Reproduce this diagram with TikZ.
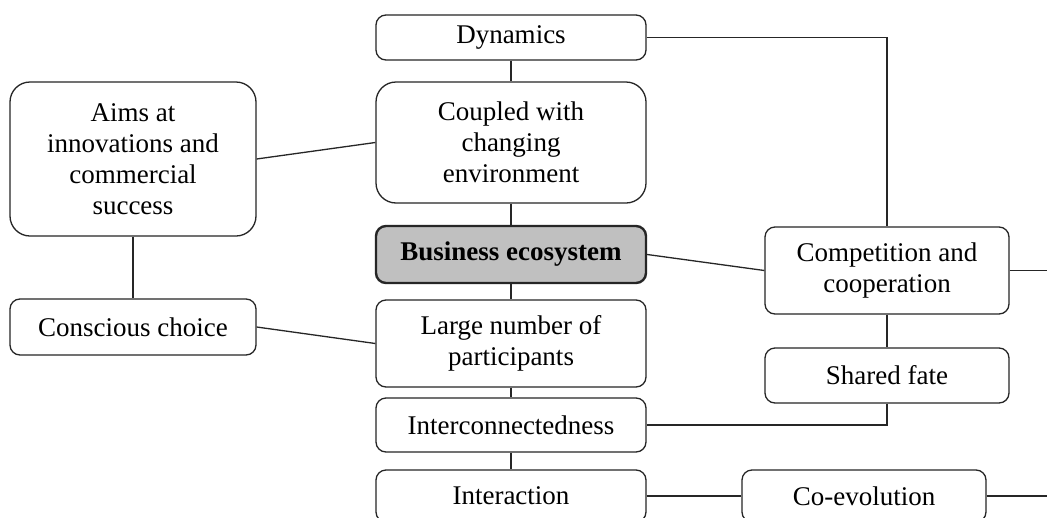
\documentclass[tikz,border=0pt]{standalone}
\usepackage{fontspec}
\setmainfont{Liberation Serif}
\begin{document}
\begin{tikzpicture}[x=1pt,y=-1pt,
  box/.style={draw=black!85, line width=1.3pt, rounded corners=10pt, align=center,
    inner sep=0pt, font=\fontsize{27}{31}\selectfont, fill=white},
  bigbox/.style={box, rounded corners=20pt},
  conn/.style={draw=black!85, line width=1.3pt}]
\useasboundingbox (0,0) rectangle (1047,517);
\fill[white] (0,0) rectangle (1047,517);
% nodes
\node[box, minimum width=270pt, minimum height=45pt] (dyn) at (511,37.5) {Dynamics};
\node[bigbox, minimum width=270pt, minimum height=121pt] (coup) at (511,142.5) {Coupled with\\changing\\environment};
\node[bigbox, minimum width=246pt, minimum height=154pt] (aims) at (133,159) {Aims at\\innovations and\\commercial\\success};
\node[box, line width=2.4pt, fill={rgb,255:red,192;green,192;blue,192}, minimum width=270pt, minimum height=57pt, font=\fontsize{27}{31}\selectfont\bfseries] (bus) at (511,254.5) {Business ecosystem};
\node[box, minimum width=270pt, minimum height=87pt] (large) at (511,343.5) {Large number of\\participants};
\node[box, minimum width=246pt, minimum height=56pt] (consc) at (133,327) {Conscious choice};
\node[box, minimum width=270pt, minimum height=54pt] (inter) at (511,425) {Interconnectedness};
\node[box, minimum width=270pt, minimum height=52pt] (interact) at (511,496) {Interaction};
\node[box, minimum width=244pt, minimum height=52pt] (coevo) at (864,496) {Co-evolution};
\node[box, minimum width=244pt, minimum height=87pt] (comp) at (887,270.5) {Competition and\\cooperation};
\node[box, minimum width=244pt, minimum height=55pt] (shared) at (887,375.5) {Shared fate};
\coordinate (rightA) at (1047,270.5);
\coordinate (rightB) at (1047,496);
% connectors
\draw[conn] (dyn) -- (coup);
\draw[conn] (coup) -- (bus);
\draw[conn] (bus) -- (large);
\draw[conn] (large) -- (inter);
\draw[conn] (inter) -- (interact);
\draw[conn] (aims) -- (consc);
\draw[conn] (aims.east) -- (coup.west);
\draw[conn] (consc.east) -- (large.west);
\draw[conn] (bus.east) -- (comp.west);
\draw[conn] (dyn.east) -| (comp.north);
\draw[conn] (comp) -- (shared);
\draw[conn] (shared.south) |- (inter.east);
\draw[conn] (comp.east) -- (rightA);
\draw[conn] (interact.east) -- (coevo.west);
\draw[conn] (coevo.east) -- (rightB);
\end{tikzpicture}
\end{document}
